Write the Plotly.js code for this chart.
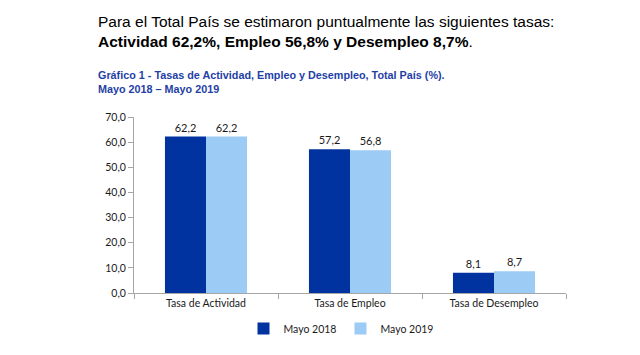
<!DOCTYPE html>
<html>
<head>
<meta charset="utf-8">
<script src="https://cdn.plot.ly/plotly-3.0.1.min.js"></script>
<style>html,body{margin:0;padding:0;background:#fff;}#chart{width:640px;height:355px;}</style>
</head>
<body>
<div id="chart"></div>
<script>
const categories = ["Tasa de Actividad", "Tasa de Empleo", "Tasa de Desempleo"];
const seriesNames = ["Mayo 2018", "Mayo 2019"];
const mayo2018 = [62.2, 57.2, 8.1];
const mayo2019 = [62.2, 56.8, 8.7];
const yTicks = [0, 10, 20, 30, 40, 50, 60, 70];

const labelFont = {family: "Lato, 'Open Sans', sans-serif", size: 11, color: "#1a1a1a"};
const tickFont = {family: "Lato, 'Open Sans', sans-serif", size: 10.5, color: "#1a1a1a"};

const traces = [
  {type: "bar", name: seriesNames[0], x: categories, y: mayo2018,
   marker: {color: "#0032a0"},
   texttemplate: "%{y:.1f}", textposition: "outside", textfont: labelFont, cliponaxis: false},
  {type: "bar", name: seriesNames[1], x: categories, y: mayo2019,
   marker: {color: "#9ccbf5"},
   texttemplate: "%{y:.1f}", textposition: "outside", textfont: labelFont, cliponaxis: false}
];

const layout = {
  width: 640, height: 355,
  margin: {l: 134, r: 74, t: 117, b: 62},
  separators: ",.",
  paper_bgcolor: "#fff", plot_bgcolor: "#fff",
  barmode: "group", bargap: 0.43, bargroupgap: 0,
  showlegend: true,
  legend: {orientation: "h", x: 0.478, xanchor: "center", y: -0.12, yanchor: "top",
           font: {family: "Lato, 'Open Sans', sans-serif", size: 10.5, color: "#1a1a1a"},
           itemwidth: 30, entrywidth: 52, tracegroupgap: 0},
  font: {family: "Lato, 'Open Sans', sans-serif", size: 10, color: "#1a1a1a"},
  xaxis: {showgrid: false, showline: true, linecolor: "#a6a6a6", linewidth: 1,
          ticks: "outside", tickson: "boundaries", ticklen: 5, tickcolor: "#a6a6a6",
          tickfont: tickFont, fixedrange: true},
  yaxis: {range: [0, 70], tickvals: yTicks, tickformat: ".1f", showgrid: false, zeroline: false,
          showline: true, linecolor: "#a6a6a6", linewidth: 1,
          ticks: "outside", ticklen: 5, tickcolor: "#a6a6a6",
          tickfont: tickFont, fixedrange: true},
  annotations: [
    {xref: "paper", yref: "paper", x: -0.088, y: 1.605, xanchor: "left", yanchor: "top", showarrow: false,
     text: "Para el Total País se estimaron puntualmente las siguientes tasas:",
     font: {family: "'Liberation Sans', Arial, sans-serif", size: 15.5, color: "#000"}},
    {xref: "paper", yref: "paper", x: -0.088, y: 1.49, xanchor: "left", yanchor: "top", showarrow: false,
     text: "<b>Actividad 62,2%, Empleo 56,8% y Desempleo 8,7%</b>.",
     font: {family: "'Liberation Sans', Arial, sans-serif", size: 15.5, color: "#000"}},
    {xref: "paper", yref: "paper", x: -0.088, y: 1.285, xanchor: "left", yanchor: "top", showarrow: false,
     align: "left",
     text: "<b>Gráfico 1 - Tasas de Actividad, Empleo y Desempleo, Total País (%).<br>Mayo 2018 – Mayo 2019</b>",
     font: {family: "'Liberation Sans', Arial, sans-serif", size: 10.8, color: "#1f3fa6"}}
  ]
};

Plotly.newPlot("chart", traces, layout, {displayModeBar: false, staticPlot: true});
</script>
</body>
</html>
